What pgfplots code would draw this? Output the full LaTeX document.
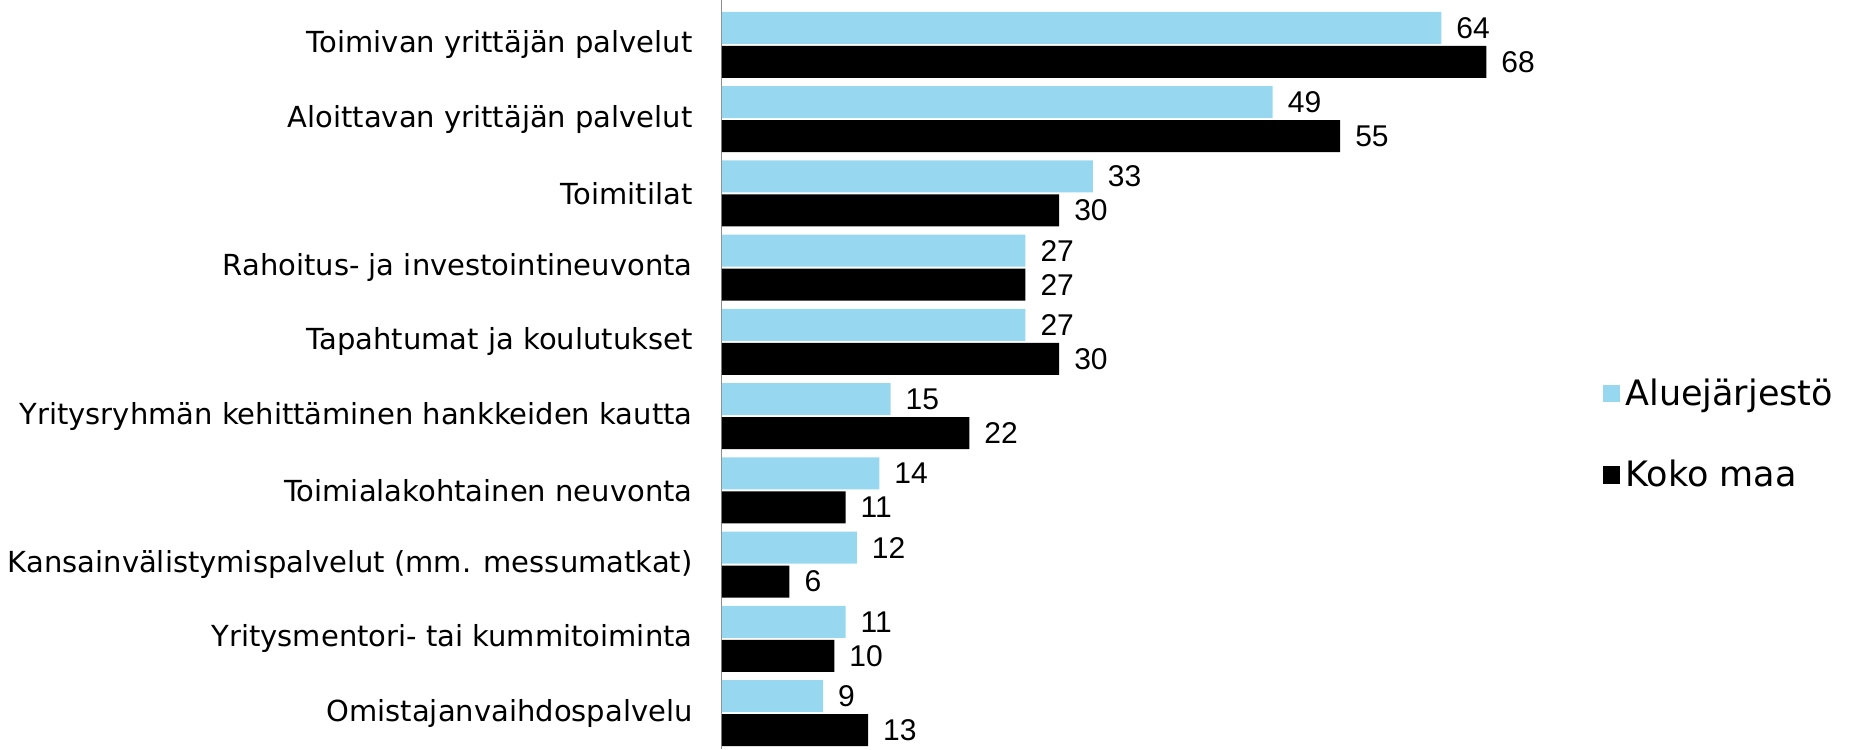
\documentclass[border=0pt]{standalone}
\usepackage{pgfplots}
\pgfplotsset{compat=1.18}
\usepackage{fontspec}
\setmainfont{DejaVu Sans}
\newfontfamily\numfont{Liberation Sans}
\definecolor{alue}{RGB}{151,216,240}
\definecolor{axgray}{RGB}{140,140,140}

\pgfplotstableread{
y alue koko
9 64 68
8 49 55
7 33 30
6 27 27
5 27 30
4 15 22
3 14 11
2 12 6
1 11 10
0 9 13
}\datatab

\begin{document}
\begin{tikzpicture}
\begin{axis}[
  xbar, scale only axis,
  width=454.4pt, height=299.6pt,
  xmin=0, xmax=101.07, ymin=-0.485, ymax=9.606,
  axis x line=none,
  axis y line*=left,
  y axis line style={draw=axgray, -},
  ytick={0,...,9},
  yticklabels={Omistajanvaihdospalvelu,
    Yritysmentori- tai kummitoiminta,
    Kansainvälistymispalvelut (mm. messumatkat),
    Toimialakohtainen neuvonta,
    Yritysryhmän kehittäminen hankkeiden kautta,
    Tapahtumat ja koulutukset,
    Rahoitus- ja investointineuvonta,
    Toimitilat,
    Aloittavan yrittäjän palvelut,
    Toimivan yrittäjän palvelut},
  major tick length=0pt,
  yticklabel style={font=\fontsize{11.6}{14}\selectfont, inner sep=0pt, anchor=east, xshift=-11.6pt},
  bar width=12.8pt,
  nodes near coords,
  /pgf/number format/assume math mode=true,
  nodes near coords style={font=\numfont\fontsize{12}{14}\selectfont, anchor=west, text=black, xshift=2.5pt},
  legend style={at={(rel axis cs:0.775,0.42)}, anchor=west, draw=none, fill=none,
    inner sep=0pt, row sep=16.5pt, font=\fontsize{14}{16}\selectfont},
  legend cell align=left,
  clip=false,
]
\addplot[fill=alue, draw=none, bar shift=6.8pt,
  legend image code/.code={\fill[alue] (0pt,-3.5pt) rectangle (7pt,3.5pt);}]
  table[x=alue, y=y] {\datatab};
\addplot[fill=black, draw=none, bar shift=-6.8pt,
  legend image code/.code={\fill[black] (0pt,-3.5pt) rectangle (7pt,3.5pt);}]
  table[x=koko, y=y] {\datatab};
\legend{Aluejärjestö, Koko maa}
\coordinate (bl) at (rel axis cs:0,0);
\coordinate (tr) at (rel axis cs:1,1);
\end{axis}
\pgfresetboundingbox
\path ([xshift=-288.8pt]bl) rectangle (tr);
\end{tikzpicture}
\end{document}
